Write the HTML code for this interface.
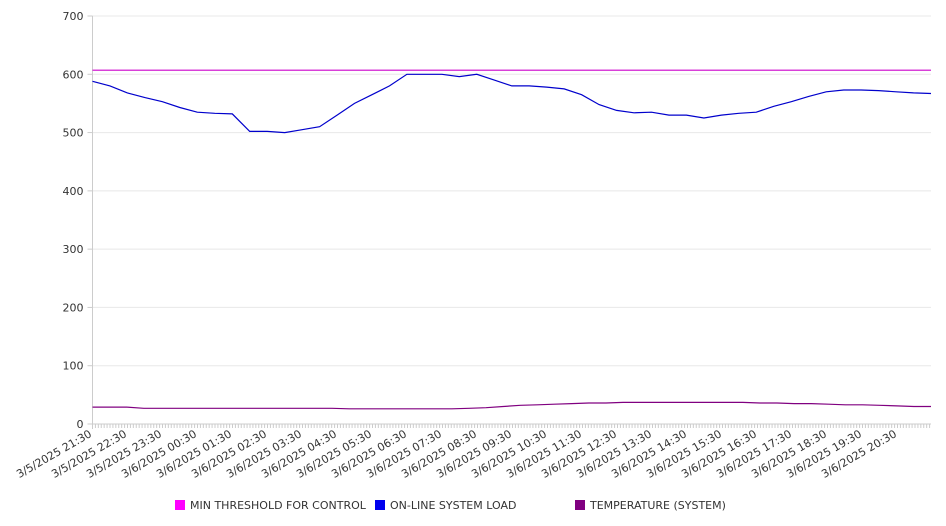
<!DOCTYPE html>
<html><head><meta charset="utf-8"><style>
html,body{margin:0;padding:0;background:#fff;}
svg{display:block;font-family:"DejaVu Sans","Liberation Sans",sans-serif;}
</style></head><body>
<svg id="chart" width="946" height="526" viewBox="0 0 946 526" xmlns="http://www.w3.org/2000/svg"></svg>
<script>
const xLabels = ["3/5/2025 21:30","3/5/2025 22:30","3/5/2025 23:30","3/6/2025 00:30","3/6/2025 01:30","3/6/2025 02:30","3/6/2025 03:30","3/6/2025 04:30","3/6/2025 05:30","3/6/2025 06:30","3/6/2025 07:30","3/6/2025 08:30","3/6/2025 09:30","3/6/2025 10:30","3/6/2025 11:30","3/6/2025 12:30","3/6/2025 13:30","3/6/2025 14:30","3/6/2025 15:30","3/6/2025 16:30","3/6/2025 17:30","3/6/2025 18:30","3/6/2025 19:30","3/6/2025 20:30"];
const yTicks = [0,100,200,300,400,500,600,700];
const thresholdValue = 607;
// half-hour samples, starting 21:30
const loadValues = [588,580,568,560,553,543,535,533,532,502,502,500,505,510,530,550,565,580,600,600,600,596,600,590,580,580,578,575,565,548,538,534,535,530,530,525,530,533,535,545,553,562,570,573,573,572,570,568,567];
const tempValues = [29,29,29,27,27,27,27,27,27,27,27,27,27,27,27,26,26,26,26,26,26,26,27,28,30,32,33,34,35,36,36,37,37,37,37,37,37,37,37,36,36,35,35,34,33,33,32,31,30,30];
const legendNames = ["MIN THRESHOLD FOR CONTROL","ON-LINE SYSTEM LOAD","TEMPERATURE (SYSTEM)"];
const legendColors = ["#ff00ff","#0000ee","#800080"];

const svg = document.getElementById('chart');
const NS = "http://www.w3.org/2000/svg";
const X0=92.5, X1=931, Y0=424, Y1=16;
const hourPx = 35;
const yScale = v => Y0 - v/700*(Y0-Y1);
const xHour = h => X0 + h*hourPx;
function mk(tag, attrs, parent){const e=document.createElementNS(NS,tag);for(const k in attrs)e.setAttribute(k,attrs[k]);(parent||svg).appendChild(e);return e;}

// grid + y ticks
yTicks.forEach(v=>{
  const y=yScale(v);
  const g=mk('line',{x1:X0,x2:X1,y1:y,y2:y,stroke:'#e8e8e8','stroke-width':1});
  
  
  mk('line',{x1:X0-5,x2:X0,y1:y,y2:y,stroke:'#ccc'});
  const t=mk('text',{x:X0-9,y:y+4,'text-anchor':'end','font-size':11,fill:'#333'});
  t.textContent=v;
  
  
});
// axes
const ya=mk('line',{x1:X0,x2:X0,y1:Y1,y2:Y0+5,stroke:'#ccc'});


const xa=mk('line',{x1:X0,x2:X1,y1:Y0,y2:Y0,stroke:'#ccc'});


// minor ticks every 5 min
for(let m=0;m<=24*12;m++){const x=X0+m*hourPx/12; if(x>X1)break; mk('line',{x1:x,x2:x,y1:Y0,y2:Y0+4,stroke:'#ccc'});}
xLabels.forEach((l,i)=>{
  const x=xHour(i);
  const t=mk('text',{x:x,y:Y0+12,'text-anchor':'end','font-size':11,fill:'#333',transform:`rotate(-30 ${x} ${Y0+12})`});
  t.textContent=l;
  
  
});
// series
function series(vals,color,name){
  const step=(X1-X0)/(vals.length-1);
  const pts=vals.map((v,i)=>`${(X0+i*step).toFixed(1)},${yScale(v).toFixed(1)}`).join(' ');
  const p=mk('polyline',{points:pts,fill:'none',stroke:color,'stroke-width':1.2});
  
  
}
const th=mk('line',{x1:X0,x2:X1,y1:yScale(thresholdValue),y2:yScale(thresholdValue),stroke:'#cc00cc','stroke-width':1.2});


series(loadValues,'#0000cc','system-load-line');
series(tempValues,'#800080','temperature-line');
// legend
const lx=[175,375,575];
legendNames.forEach((n,i)=>{
  const g=mk('g',{});
  
  
  mk('rect',{x:lx[i],y:500,width:10,height:10,fill:legendColors[i]},g);
  const t=mk('text',{x:lx[i]+15,y:509,'font-size':11,fill:'#333'},g);
  t.textContent=n;
});
</script>
</body></html>
